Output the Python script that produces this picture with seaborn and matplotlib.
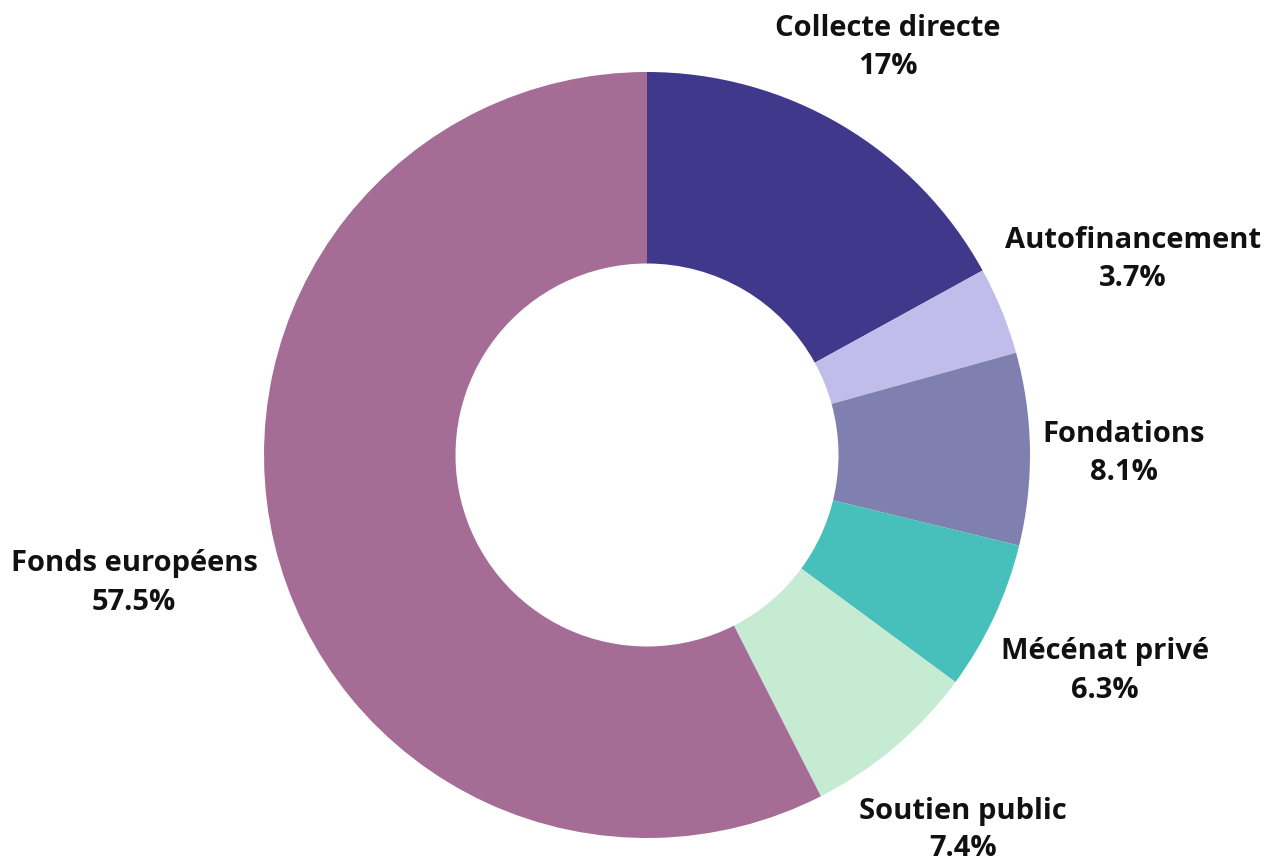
import matplotlib
matplotlib.use("Agg")
import matplotlib.pyplot as plt
import seaborn as sns
import numpy as np

sns.set_theme(style="white")
plt.rcParams['font.family'] = ['Open Sans', 'DejaVu Sans']

categories = ["Collecte directe", "Autofinancement", "Fondations", "Mécénat privé", "Soutien public", "Fonds européens"]
values = [17, 3.7, 8.1, 6.3, 7.4, 57.5]
value_labels = ["17%", "3.7%", "8.1%", "6.3%", "7.4%", "57.5%"]
colors = ["#40398B", "#C1BDEA", "#7F80AF", "#47BFBA", "#C5EBD2", "#A56C95"]

# layout (pixel space, y measured downward from top)
W, H = 1269, 864
cx, cy = 647, 455
R = 383
ring = 0.5
label_centers = [(888, 48), (1133, 259), (1124, 453), (1105, 671), (963, 830), (134, 583)]
line_gap = 38

fig = plt.figure(figsize=(W / 100, H / 100), dpi=100)
ax = fig.add_axes([0, 0, 1, 1])
ax.set_xlim(0, W)
ax.set_ylim(0, H)
ax.set_aspect('equal')
ax.axis('off')

ax.pie(values, colors=colors, startangle=90, counterclock=False,
       center=(cx, H - cy), radius=R,
       wedgeprops=dict(width=R * ring, edgecolor='none', linewidth=0))
ax.set_xlim(0, W)
ax.set_ylim(0, H)

for cat, vl, (lx, ly) in zip(categories, value_labels, label_centers):
    ax.text(lx, H - ly + line_gap / 2, cat, ha='center', va='center',
            fontsize=21, fontweight='bold', color='#111111')
    ax.text(lx, H - ly - line_gap / 2, vl, ha='center', va='center',
            fontsize=21, fontweight='bold', color='#111111')

fig.savefig("out.png", dpi=100)
